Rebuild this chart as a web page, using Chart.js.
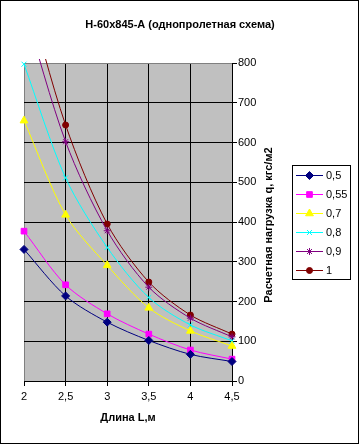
<!DOCTYPE html>
<html>
<head>
<meta charset="utf-8">
<script src="https://cdn.jsdelivr.net/npm/chart.js"></script>
<style>
  html, body { margin: 0; padding: 0; background: #fff; }
  #wrap { width: 360px; height: 445px; }
</style>
</head>
<body>
<div id="wrap"><canvas id="loadChart" width="360" height="445"></canvas></div>
<script>
// данные графика
const lengths = [2, 2.5, 3, 3.5, 4, 4.5];
const seriesNames = ['0,5', '0,55', '0,7', '0,8', '0,9', '1'];
const load05 = [331, 214, 148, 102, 67, 49];
const load055 = [377, 242, 169, 118, 78, 55];
const load07 = [655, 418, 291, 184, 126, 88];
const load08 = [797, 511, 336, 210, 141, 101];
const load09 = [940, 602, 378, 236, 158, 111];
const load1 = [1005, 644, 395, 249, 166, 118];
const yMin = 0, yMax = 800, yStep = 100;

const chartTitle = 'Н-60х845-А (однопролетная схема)';
const xTitle = 'Длина L,м';
const yTitle = 'Расчетная нагрузка q, кгс/м2';

const allSeries = [load05, load055, load07, load08, load09, load1];
const colors = ['#000080', '#FF00FF', '#FFFF00', '#00FFFF', '#800080', '#800000'];
const markers = ['rectRot', 'rect', 'triangle', 'crossRot', 'star', 'circle'];
const markerSize = [4, 4, 4.5, 3.5, 3.5, 3];

const datasets = allSeries.map(function (vals, i) {
  return {
    label: seriesNames[i],
    data: vals.map(function (v, j) { return { x: lengths[j], y: v }; }),
    borderColor: colors[i],
    backgroundColor: colors[i],
    pointBackgroundColor: colors[i],
    pointBorderColor: colors[i],
    pointStyle: markers[i],
    pointRadius: markerSize[i],
    pointBorderWidth: 1,
    borderWidth: 1,
    tension: 0.3,
    clip: { left: 8, top: 4, right: 8, bottom: 8 }
  };
});

const FONT = 'Arial, "Liberation Sans", sans-serif';

// фон, заголовки, легенда, рамка
const decor = {
  id: 'decor',
  beforeDraw: function (chart) {
    const c = chart.ctx, a = chart.chartArea;
    c.save();
    c.fillStyle = '#fff';
    c.fillRect(0, 0, chart.width, chart.height);
    c.fillStyle = '#C0C0C0';
    c.fillRect(a.left, a.top, a.right - a.left, a.bottom - a.top);
    c.restore();
  },
  afterDraw: function (chart) {
    const c = chart.ctx, a = chart.chartArea;
    c.save();
    c.fillStyle = '#000';
    c.font = 'bold 11px ' + FONT;
    c.textAlign = 'center';
    c.textBaseline = 'middle';
    c.fillText(chartTitle, 180, 25);
    c.fillText(xTitle, (a.left + a.right) / 2, 418);
    c.save();
    c.translate(269, (a.top + a.bottom) / 2 + 3);
    c.rotate(-Math.PI / 2);
    c.fillText(yTitle, 0, 0);
    c.restore();

    // легенда
    c.strokeStyle = '#000';
    c.lineWidth = 1;
    c.strokeRect(292.5, 165.5, 58, 114);
    c.font = '11px ' + FONT;
    c.textAlign = 'left';
    chart.data.datasets.forEach(function (ds, i) {
      const y = 175.5 + i * 19;
      c.strokeStyle = ds.borderColor;
      c.beginPath();
      c.moveTo(296, y);
      c.lineTo(323, y);
      c.stroke();
      if (Chart.helpers && Chart.helpers.drawPoint) {
        c.fillStyle = ds.pointBackgroundColor;
        c.strokeStyle = ds.pointBorderColor;
        Chart.helpers.drawPoint(c, {
          pointStyle: ds.pointStyle,
          radius: ds.pointRadius,
          rotation: 0,
          borderWidth: 1
        }, 309.5, y);
      }
      c.fillStyle = '#000';
      c.fillText(ds.label, 326, y);
    });

    // рамка диаграммы
    c.strokeStyle = '#000';
    c.strokeRect(0.5, 0.5, 358, 443);
    c.restore();
  }
};

const chart = new Chart(document.getElementById('loadChart'), {
  type: 'line',
  data: { datasets: datasets },
  options: {
    responsive: false,
    animation: false,
    layout: { padding: { left: 24, top: 63, right: 98, bottom: 0 } },
    plugins: {
      legend: { display: false },
      title: { display: false },
      tooltip: { enabled: false }
    },
    scales: {
      x: {
        type: 'linear',
        min: lengths[0],
        max: lengths[lengths.length - 1],
        afterFit: function (s) { s.height = 64; },
        ticks: {
          stepSize: 0.5,
          color: '#000',
          font: { family: FONT, size: 11 },
          padding: 4,
          maxRotation: 0,
          callback: function (v) { return String(v).replace('.', ','); }
        },
        grid: {
          color: function (ctx) { return ctx.tick && ctx.tick.value === lengths[0] ? '#808080' : '#000'; },
          tickColor: '#000',
          tickLength: 5,
          lineWidth: 1
        },
        border: { color: '#000', width: 1 }
      },
      y: {
        type: 'linear',
        position: 'right',
        min: yMin,
        max: yMax,
        afterFit: function (s) { s.width = 30; },
        ticks: {
          stepSize: yStep,
          color: '#000',
          font: { family: FONT, size: 11 },
          padding: 1
        },
        grid: {
          color: function (ctx) { return ctx.tick && ctx.tick.value === yMax ? '#808080' : '#000'; },
          tickColor: '#000',
          tickLength: 5,
          lineWidth: 1
        },
        border: { color: '#000', width: 1 }
      }
    }
  },
  plugins: [decor]
});
</script>
</body>
</html>
